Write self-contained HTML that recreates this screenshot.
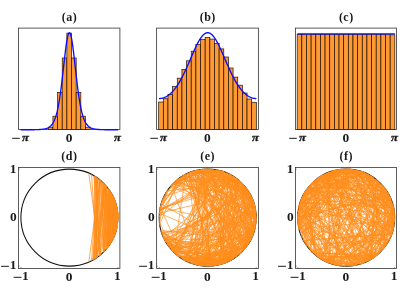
<!DOCTYPE html><html><head><meta charset="utf-8"><style>html,body{margin:0;padding:0;background:#fff}svg{display:block;will-change:transform;opacity:0.999}text{font-family:"Liberation Serif",serif;font-weight:bold;fill:#1a1a1a}</style></head><body>
<svg width="415" height="297" viewBox="0 0 415 297">
<rect width="415" height="297" fill="#fff"/>
<rect x="18.5" y="28.1" width="101.4" height="101.4" fill="none" stroke="#404040" stroke-width="0.85"/>
<g fill="#ff9933" stroke="#140a00" stroke-opacity="0.95" stroke-width="0.7"><rect x="48.28" y="127.2" width="4.65" height="2.3"/><rect x="52.93" y="116.2" width="4.65" height="13.3"/><rect x="57.58" y="92.4" width="4.65" height="37.1"/><rect x="62.23" y="58" width="4.65" height="71.5"/><rect x="66.88" y="33.1" width="4.65" height="96.4"/><rect x="71.53" y="58" width="4.65" height="71.5"/><rect x="76.18" y="92.4" width="4.65" height="37.1"/><rect x="80.83" y="116.2" width="4.65" height="13.3"/><rect x="85.48" y="127.2" width="4.65" height="2.3"/></g>
<polyline fill="none" stroke="#0c0cff" stroke-width="1.35" stroke-linejoin="round" points="20.71,129.79 21.31,129.79 21.92,129.79 22.53,129.79 23.14,129.79 23.75,129.79 24.36,129.79 24.97,129.78 25.57,129.78 26.18,129.78 26.79,129.78 27.4,129.78 28.01,129.77 28.62,129.77 29.23,129.77 29.84,129.76 30.44,129.76 31.05,129.75 31.66,129.74 32.27,129.74 32.88,129.73 33.49,129.72 34.1,129.71 34.71,129.7 35.31,129.69 35.92,129.67 36.53,129.65 37.14,129.63 37.75,129.61 38.36,129.58 38.97,129.55 39.57,129.52 40.18,129.48 40.79,129.43 41.4,129.38 42.01,129.31 42.62,129.24 43.23,129.16 43.84,129.06 44.44,128.95 45.05,128.81 45.66,128.66 46.27,128.48 46.88,128.28 47.49,128.04 48.1,127.75 48.7,127.43 49.31,127.05 49.92,126.6 50.53,126.09 51.14,125.49 51.75,124.79 52.36,123.98 52.97,123.04 53.57,121.96 54.18,120.71 54.79,119.28 55.4,117.63 56.01,115.75 56.62,113.61 57.23,111.18 57.84,108.45 58.44,105.39 59.05,102 59.66,98.25 60.27,94.15 60.88,89.72 61.49,84.96 62.1,79.94 62.7,74.69 63.31,69.3 63.92,63.86 64.53,58.47 65.14,53.27 65.75,48.38 66.36,43.94 66.97,40.09 67.57,36.94 68.18,34.61 68.79,33.18 69.4,32.7 70.01,33.18 70.62,34.61 71.23,36.94 71.83,40.09 72.44,43.94 73.05,48.38 73.66,53.27 74.27,58.47 74.88,63.86 75.49,69.3 76.1,74.69 76.7,79.94 77.31,84.96 77.92,89.72 78.53,94.15 79.14,98.25 79.75,102 80.36,105.39 80.96,108.45 81.57,111.18 82.18,113.61 82.79,115.75 83.4,117.63 84.01,119.28 84.62,120.71 85.23,121.96 85.83,123.04 86.44,123.98 87.05,124.79 87.66,125.49 88.27,126.09 88.88,126.6 89.49,127.05 90.1,127.43 90.7,127.75 91.31,128.04 91.92,128.28 92.53,128.48 93.14,128.66 93.75,128.81 94.36,128.95 94.96,129.06 95.57,129.16 96.18,129.24 96.79,129.31 97.4,129.38 98.01,129.43 98.62,129.48 99.23,129.52 99.83,129.55 100.44,129.58 101.05,129.61 101.66,129.63 102.27,129.65 102.88,129.67 103.49,129.69 104.09,129.7 104.7,129.71 105.31,129.72 105.92,129.73 106.53,129.74 107.14,129.74 107.75,129.75 108.36,129.76 108.96,129.76 109.57,129.77 110.18,129.77 110.79,129.77 111.4,129.78 112.01,129.78 112.62,129.78 113.23,129.78 113.83,129.78 114.44,129.79 115.05,129.79 115.66,129.79 116.27,129.79 116.88,129.79 117.49,129.79 118.09,129.79"/>
<text x="69.5" y="21" font-size="12" text-anchor="middle" letter-spacing="0.5">(a)</text>
<line x1="12.2" y1="138.3" x2="19.8" y2="138.3" stroke="#1a1a1a" stroke-width="1"/>
<text transform="translate(22 141.2) scale(1.15 1)" font-size="11" font-style="italic" stroke="#1a1a1a" stroke-width="0.3">π</text>
<text transform="translate(69.1 141.5) scale(1.12 1)" font-size="12" text-anchor="middle">0</text>
<text transform="translate(114 141.2) scale(1.15 1)" font-size="11" font-style="italic" stroke="#1a1a1a" stroke-width="0.3">π</text>
<rect x="156.6" y="28.1" width="101.8" height="101.4" fill="none" stroke="#404040" stroke-width="0.85"/>
<g fill="#ff9933" stroke="#140a00" stroke-opacity="0.95" stroke-width="0.7"><rect x="158.68" y="102" width="4.65" height="27.5"/><rect x="163.33" y="98.7" width="4.65" height="30.8"/><rect x="167.98" y="94.4" width="4.65" height="35.1"/><rect x="172.62" y="86.3" width="4.65" height="43.2"/><rect x="177.28" y="78.2" width="4.65" height="51.3"/><rect x="181.93" y="69.4" width="4.65" height="60.1"/><rect x="186.58" y="60.8" width="4.65" height="68.7"/><rect x="191.23" y="51.2" width="4.65" height="78.3"/><rect x="195.88" y="44.5" width="4.65" height="85"/><rect x="200.53" y="39.5" width="4.65" height="90"/><rect x="205.18" y="37.4" width="4.65" height="92.1"/><rect x="209.83" y="39.1" width="4.65" height="90.4"/><rect x="214.48" y="43.5" width="4.65" height="86"/><rect x="219.12" y="48.9" width="4.65" height="80.6"/><rect x="223.78" y="57" width="4.65" height="72.5"/><rect x="228.43" y="68" width="4.65" height="61.5"/><rect x="233.08" y="77.1" width="4.65" height="52.4"/><rect x="237.73" y="85.2" width="4.65" height="44.3"/><rect x="242.38" y="93" width="4.65" height="36.5"/><rect x="247.03" y="99" width="4.65" height="30.5"/><rect x="251.68" y="102.3" width="4.65" height="27.2"/></g>
<polyline fill="none" stroke="#0c0cff" stroke-width="1.35" stroke-linejoin="round" points="159.01,98.56 159.61,98.55 160.22,98.5 160.83,98.44 161.44,98.34 162.05,98.22 162.66,98.07 163.27,97.89 163.87,97.68 164.48,97.44 165.09,97.18 165.7,96.89 166.31,96.57 166.92,96.22 167.53,95.84 168.14,95.43 168.74,94.99 169.35,94.51 169.96,94.01 170.57,93.48 171.18,92.91 171.79,92.32 172.4,91.69 173.01,91.03 173.61,90.33 174.22,89.61 174.83,88.84 175.44,88.05 176.05,87.22 176.66,86.36 177.27,85.47 177.87,84.54 178.48,83.57 179.09,82.58 179.7,81.55 180.31,80.49 180.92,79.4 181.53,78.27 182.14,77.12 182.74,75.93 183.35,74.72 183.96,73.48 184.57,72.22 185.18,70.93 185.79,69.61 186.4,68.28 187,66.93 187.61,65.56 188.22,64.18 188.83,62.78 189.44,61.38 190.05,59.97 190.66,58.55 191.27,57.14 191.87,55.73 192.48,54.33 193.09,52.94 193.7,51.56 194.31,50.2 194.92,48.87 195.53,47.56 196.14,46.28 196.74,45.03 197.35,43.83 197.96,42.67 198.57,41.55 199.18,40.48 199.79,39.47 200.4,38.52 201,37.63 201.61,36.8 202.22,36.04 202.83,35.36 203.44,34.75 204.05,34.21 204.66,33.75 205.27,33.38 205.87,33.08 206.48,32.87 207.09,32.74 207.7,32.7 208.31,32.74 208.92,32.87 209.53,33.08 210.13,33.38 210.74,33.75 211.35,34.21 211.96,34.75 212.57,35.36 213.18,36.04 213.79,36.8 214.4,37.63 215,38.52 215.61,39.47 216.22,40.48 216.83,41.55 217.44,42.67 218.05,43.83 218.66,45.03 219.26,46.28 219.87,47.56 220.48,48.87 221.09,50.2 221.7,51.56 222.31,52.94 222.92,54.33 223.53,55.73 224.13,57.14 224.74,58.55 225.35,59.97 225.96,61.38 226.57,62.78 227.18,64.18 227.79,65.56 228.4,66.93 229,68.28 229.61,69.61 230.22,70.93 230.83,72.22 231.44,73.48 232.05,74.72 232.66,75.93 233.26,77.12 233.87,78.27 234.48,79.4 235.09,80.49 235.7,81.55 236.31,82.58 236.92,83.57 237.53,84.54 238.13,85.47 238.74,86.36 239.35,87.22 239.96,88.05 240.57,88.84 241.18,89.61 241.79,90.33 242.39,91.03 243,91.69 243.61,92.32 244.22,92.91 244.83,93.48 245.44,94.01 246.05,94.51 246.66,94.99 247.26,95.43 247.87,95.84 248.48,96.22 249.09,96.57 249.7,96.89 250.31,97.18 250.92,97.44 251.53,97.68 252.13,97.89 252.74,98.07 253.35,98.22 253.96,98.34 254.57,98.44 255.18,98.5 255.79,98.55 256.39,98.56"/>
<text x="207.8" y="21" font-size="12" text-anchor="middle" letter-spacing="0.5">(b)</text>
<line x1="150.3" y1="138.3" x2="157.9" y2="138.3" stroke="#1a1a1a" stroke-width="1"/>
<text transform="translate(160.1 141.2) scale(1.15 1)" font-size="11" font-style="italic" stroke="#1a1a1a" stroke-width="0.3">π</text>
<text transform="translate(207.4 141.5) scale(1.12 1)" font-size="12" text-anchor="middle">0</text>
<text transform="translate(252.1 141.2) scale(1.15 1)" font-size="11" font-style="italic" stroke="#1a1a1a" stroke-width="0.3">π</text>
<rect x="295.5" y="28.1" width="101" height="101.4" fill="none" stroke="#404040" stroke-width="0.85"/>
<g fill="#ff9933" stroke="#140a00" stroke-opacity="0.95" stroke-width="0.7"><rect x="297.18" y="34.6" width="4.65" height="94.9"/><rect x="301.82" y="34.5" width="4.65" height="95"/><rect x="306.48" y="34.7" width="4.65" height="94.8"/><rect x="311.12" y="34.5" width="4.65" height="95"/><rect x="315.78" y="34.4" width="4.65" height="95.1"/><rect x="320.43" y="34.6" width="4.65" height="94.9"/><rect x="325.07" y="34.5" width="4.65" height="95"/><rect x="329.73" y="34.6" width="4.65" height="94.9"/><rect x="334.38" y="34.4" width="4.65" height="95.1"/><rect x="339.03" y="34.5" width="4.65" height="95"/><rect x="343.68" y="34.3" width="4.65" height="95.2"/><rect x="348.33" y="34.6" width="4.65" height="94.9"/><rect x="352.98" y="34.5" width="4.65" height="95"/><rect x="357.62" y="34.6" width="4.65" height="94.9"/><rect x="362.28" y="34.4" width="4.65" height="95.1"/><rect x="366.93" y="34.5" width="4.65" height="95"/><rect x="371.58" y="34.2" width="4.65" height="95.3"/><rect x="376.23" y="34.5" width="4.65" height="95"/><rect x="380.88" y="34.6" width="4.65" height="94.9"/><rect x="385.53" y="34.7" width="4.65" height="94.8"/><rect x="390.18" y="34.8" width="4.65" height="94.7"/></g>
<line x1="297.51" y1="33.9" x2="394.89" y2="33.9" stroke="#0c0cff" stroke-width="1.3"/>
<text x="346.3" y="21" font-size="12" text-anchor="middle" letter-spacing="0.5">(c)</text>
<line x1="289.2" y1="138.3" x2="296.8" y2="138.3" stroke="#1a1a1a" stroke-width="1"/>
<text transform="translate(299 141.2) scale(1.15 1)" font-size="11" font-style="italic" stroke="#1a1a1a" stroke-width="0.3">π</text>
<text transform="translate(345.9 141.5) scale(1.12 1)" font-size="12" text-anchor="middle">0</text>
<text transform="translate(391 141.2) scale(1.15 1)" font-size="11" font-style="italic" stroke="#1a1a1a" stroke-width="0.3">π</text>
<rect x="18.5" y="167.5" width="101.4" height="101" fill="none" stroke="#404040" stroke-width="0.85"/>
<circle cx="69.4" cy="217.6" r="48.5" fill="none" stroke="#111" stroke-width="1.05"/>
<path d="M113.1 196.2L113.9 237.1M112.9 195.8L109.8 244.6M117.3 209.5L115.8 232.2M117.5 210.4L118 219.3M112.1 194.5L110 244.3M116.3 205L116.9 227.9M117.5 210.7L116.2 230.7M114 198.3L115.7 232.5M108.7 189L106.8 248.6M115.2 201.3L111.5 241.9M117.3 209.5L117 227.3M113.3 196.7L114 236.9M117.9 214.6L117.8 221.8M115.8 203.3L114.6 235.4M113.3 196.7L113.6 237.8M115.5 202.2L114.4 236M117.7 212.1L116.8 228.5M117.7 211.9L116.7 228.7M117.7 212L118 219.3M117.5 210.9L117.4 225.1M109.7 190.4L109.9 244.5M110.2 191.2L110.5 243.6M114.2 198.8L109.1 245.6M114.3 199.1L114.6 235.4M106.1 185.7L113.1 238.9M115.3 201.7L112 241M115.4 201.9L116.5 229.6M117.1 208.3L117.8 222.3M115.4 201.8L116.6 229M114.8 200.2L112.9 239.2M114 198.2L112.6 239.8M117.9 214.6L116.7 228.6M117.2 208.7L116.9 227.8M117.1 208.4L118 219.3M117.6 211.4L116.6 229.1M117.7 212.5L114.8 235M113.2 196.5L112.9 239.3M109 189.5L111.6 241.8M110.1 191L108.7 246.2M116.5 205.7L118 219.3M109.6 190.2L108.4 246.6M117.4 210.1L117.3 225.9M114.8 200.2L111.5 241.8M116.5 205.5L115.6 232.6M116.6 205.8L117.4 225M108.5 188.8L111.1 242.6M112.9 196L115.6 232.6M110.8 192.1L112.7 239.6M115.8 203.1L116.4 229.9M118 215.9L116.4 230M114.3 199.1L111.6 241.6M112 194.2L116.6 229.2M116.8 207L115.7 232.2M111.9 194.1L113.5 238.1M115 200.7L114.5 235.8M108.3 188.4L110.3 243.9M109 189.5L108.7 246.2M113.4 197L109.9 244.5M117.9 213.9L117.1 227.1M110.5 191.6L111.2 242.5M114.3 198.9L112.6 239.9M116.7 206.3L112.1 240.8M116.9 207.2L117.3 225.6M115.3 201.7L116.9 228M115.6 202.5L116.9 227.8M113 196.2L115.1 234.2M117.7 212.2L115.4 233.1M113.7 197.6L116.8 228.4M115.1 201L114.4 235.9M111.3 192.9L107.6 247.7M114.7 200.1L113.3 238.5M111.2 192.9L108.3 246.8M111.4 193.2L106.4 249.1M115.8 203L115.4 233.2M108.5 188.8L108.6 246.3M111.5 193.4L110.4 243.7M112.3 194.7L112.3 240.5M116.7 206.3L116.2 230.9M117.7 211.8L116.7 228.8M117.6 211L116.7 228.6M109.8 190.6L111 242.7M116.6 205.9L113.2 238.6M114 198.2L112.1 240.9M106.9 186.6L109.8 244.6M113.3 196.9L113.6 237.9M106.3 185.9L108.2 246.9M106.3 186L105.7 249.9M106.5 186.2L100.6 254.8M108.7 189L106.5 248.9M103.8 183.3L103.7 252.1M106.5 186.2L104.2 251.5M108.6 188.9L107.3 248M108.1 188.2L108.2 246.9M105.4 184.9L108.3 246.7M106.4 186.1L103.8 251.9M102.7 182.2L107.1 248.3M104.8 184.3L104.2 251.6M104.8 184.3L108.2 246.8M103.1 182.6L107.3 248M100.9 180.6L107.9 247.2M105.3 184.9L109 245.8M106.1 185.8L109.7 244.7M99 179L106.3 249.3M111.2 192.7L104.2 251.5M108.7 189L104.2 251.5M95.2 176.4L100.4 255M105.2 184.7L95.5 258.6M96.2 177L96.5 258M96.5 177.2L96.7 257.8M105.7 185.2L97 257.6M100.7 180.4L94.7 259.1M100.9 180.6L103.8 252M96.5 177.3L99.1 256.1M98.3 178.5L94.1 259.4M99.7 179.6L94.2 259.4M97.9 178.2L92.9 260.2M102 181.6L103.9 251.9M105.2 184.8L97.2 257.4M95.2 176.4L94.7 259.1M105.1 184.6L96.7 257.8M95.2 176.4L99.9 255.5M99.8 179.7L100.3 255.1M93.8 175.6L101 254.5M104.7 184.2L94.9 259M103.5 182.9L93.3 259.9M103.1 182.6L99.1 256.1M95.2 176.4L103.2 252.5M100.3 180.1L92.9 260.1M97.3 177.8L103.9 251.9M88.8 173L99.7 255.6M99.7 179.6L88.8 262.2M91.5 174.3L97.3 257.4M97.3 177.8L91.5 260.9M94.4 175.9L94.4 259.3" fill="none" stroke="#ff8c1a" stroke-width="0.75"/>
<text x="69.4" y="160" font-size="12" text-anchor="middle" letter-spacing="0.5">(d)</text>
<path d="M18.5 169.2h1.2M18.5 266.2h1.2M20.9 268.5v-1.3M117.9 268.5v-1.3" stroke="#404040" stroke-width="0.6" fill="none"/>
<text transform="translate(16.5 172.5) scale(1.12 1)" font-size="12" text-anchor="end">1</text>
<text transform="translate(16.7 220.6) scale(1.12 1)" font-size="12" text-anchor="end">0</text>
<text transform="translate(16.5 269.2) scale(1.12 1)" font-size="12" text-anchor="end">1</text>
<line x1="1.1" y1="266.3" x2="8.9" y2="266.3" stroke="#1a1a1a" stroke-width="1"/>
<line x1="13.6" y1="277.3" x2="21.5" y2="277.3" stroke="#1a1a1a" stroke-width="1"/>
<text transform="translate(28.7 280.2) scale(1.12 1)" font-size="12" text-anchor="end">1</text>
<text transform="translate(69 280.5) scale(1.12 1)" font-size="12" text-anchor="middle">0</text>
<text transform="translate(117.4 280.2) scale(1.12 1)" font-size="12" text-anchor="middle">1</text>
<rect x="156.6" y="167.5" width="101.8" height="101" fill="none" stroke="#404040" stroke-width="0.85"/>
<circle cx="207.7" cy="217.6" r="48.5" fill="none" stroke="#111" stroke-width="1.05"/>
<path d="M211.7 266L240.7 181.9M240.7 181.9L250.1 193.8M250.1 193.8L201.8 169.4M201.8 169.4L231.9 259.8M231.9 259.8L226.4 172.7M226.4 172.7L243.9 250M243.9 250L195.9 264.7M195.9 264.7L215.7 265.5M215.7 265.5L185.4 260.8M185.4 260.8L252.4 198.5M252.4 198.5L210 266.1M210 266.1L202.8 169.3M202.8 169.3L207.2 266.2M207.2 266.2L241.9 183.1M241.9 183.1L222.6 263.9M222.6 263.9L198.9 265.4M198.9 265.4L252.8 235.7M252.8 235.7L215.9 265.5M215.9 265.5L177 255.3M177 255.3L210.6 266.1M210.6 266.1L234.8 257.9M234.8 257.9L199.1 265.4M199.1 265.4L231.3 260.1M231.3 260.1L210.9 266.1M210.9 266.1L236.8 178.6M236.8 178.6L229.9 260.9M229.9 260.9L242.4 183.6M242.4 183.6L256.2 221.3M256.2 221.3L229.3 174M229.3 174L249.4 242.5M249.4 242.5L213.5 265.9M213.5 265.9L188.7 172.9M188.7 172.9L198.5 265.3M198.5 265.3L253.2 200.6M253.2 200.6L244.9 248.9M244.9 248.9L208.7 169M208.7 169L242.1 183.3M242.1 183.3L229.4 174.1M229.4 174.1L184.3 260.2M184.3 260.2L220 264.6M220 264.6L228.6 173.7M228.6 173.7L244.5 185.9M244.5 185.9L253.1 235M253.1 235L220.4 170.7M220.4 170.7L159.1 216.8M159.1 216.8L184.4 174.9M184.4 174.9L235 177.4M235 177.4L248.5 191.2M248.5 191.2L164.4 239.8M164.4 239.8L193.5 264.1M193.5 264.1L254 232.5M254 232.5L232.5 259.4M232.5 259.4L184.2 260.1M184.2 260.1L161.6 233.1M161.6 233.1L256.1 212.9M256.1 212.9L198.7 265.4M198.7 265.4L249.6 192.9M249.6 192.9L162.3 235M162.3 235L174.7 253.3M174.7 253.3L251.1 195.8M251.1 195.8L216.1 169.7M216.1 169.7L242.9 251.2M242.9 251.2L161.1 203.8M161.1 203.8L167.3 190.6M167.3 190.6L160.2 207.5M160.2 207.5L182.2 176.2M182.2 176.2L172.1 184.5M172.1 184.5L227.4 173.2M227.4 173.2L194.8 170.8M194.8 170.8L256.3 217.9M256.3 217.9L165.3 241.4M165.3 241.4L245 248.8M245 248.8L202.5 169.3M202.5 169.3L251.2 196M251.2 196L189 172.8M189 172.8L223.3 171.6M223.3 171.6L230.6 260.5M230.6 260.5L188 173.2M188 173.2L213.9 265.8M213.9 265.8L227.7 261.9M227.7 261.9L252.6 199M252.6 199L208.9 169M208.9 169L173 183.6M173 183.6L205.2 169.1M205.2 169.1L221.8 171.1M221.8 171.1L195.9 170.5M195.9 170.5L252 197.6M252 197.6L214.3 265.7M214.3 265.7L224 171.8M224 171.8L186.6 173.8M186.6 173.8L159.2 214M159.2 214L162.8 199M162.8 199L197.6 170.1M197.6 170.1L255.7 209.8M255.7 209.8L232.4 175.8M232.4 175.8L256.1 213M256.1 213L233 176.1M233 176.1L220.5 264.5M220.5 264.5L171.7 250.2M171.7 250.2L233.5 176.4M233.5 176.4L245.8 247.8M245.8 247.8L254 202.7M254 202.7L168.4 246.3M168.4 246.3L218.6 170.2M218.6 170.2L244.4 249.5M244.4 249.5L188.3 173M188.3 173L231.4 260M231.4 260L256.2 220.7M256.2 220.7L183.2 259.6M183.2 259.6L163.7 238.3M163.7 238.3L256 211.9M256 211.9L190.9 263.2M190.9 263.2L236.6 256.7M236.6 256.7L182.5 176M182.5 176L240.5 181.7M240.5 181.7L191.5 171.8M191.5 171.8L251.4 238.8M251.4 238.8L187.1 261.6M187.1 261.6L218.9 264.9M218.9 264.9L238.1 179.7M238.1 179.7L188.8 262.4M188.8 262.4L202.3 169.3M202.3 169.3L193.4 264M193.4 264L227 262.2M227 262.2L161.5 232.6M161.5 232.6L212.2 266M212.2 266L189 172.7M189 172.7L161.1 204M161.1 204L172.6 183.9M172.6 183.9L255.6 209.6M255.6 209.6L196.7 264.9M196.7 264.9L199 169.8M199 169.8L238.7 255.1M238.7 255.1L196.2 170.4M196.2 170.4L250.7 195M250.7 195L201.3 169.4M201.3 169.4L252.5 198.8M252.5 198.8L218.5 170.2M218.5 170.2L250.7 240.3M250.7 240.3L164 238.9M164 238.9L244.1 249.8M244.1 249.8L224.1 263.4M224.1 263.4L167.5 244.9M167.5 244.9L210.8 266.1M210.8 266.1L203.1 169.2M203.1 169.2L255.4 227.1M255.4 227.1L254.6 205M254.6 205L235.4 177.7M235.4 177.7L163.5 237.7M163.5 237.7L178.4 256.4M178.4 256.4L163.9 238.6M163.9 238.6L223.5 263.6M223.5 263.6L223.3 171.6M223.3 171.6L172.1 250.7M172.1 250.7L239.8 181.1M239.8 181.1L202.7 265.9M202.7 265.9L201.6 169.4M201.6 169.4L227.8 261.8M227.8 261.8L246.8 188.7M246.8 188.7L230.1 174.5M230.1 174.5L248.8 243.6M248.8 243.6L183.6 175.4M183.6 175.4L160 208.4M160 208.4L159.7 224.9M159.7 224.9L178.2 178.9M178.2 178.9L238.9 180.3M238.9 180.3L253.7 201.9M253.7 201.9L240.9 182.2M240.9 182.2L177.5 179.5M177.5 179.5L198.3 169.9M198.3 169.9L184 175.2M184 175.2L205.9 169M205.9 169L209.2 266.2M209.2 266.2L244.6 249.3M244.6 249.3L189.7 172.5M189.7 172.5L206.7 169M206.7 169L252.4 236.7M252.4 236.7L196.3 264.8M196.3 264.8L240.6 181.8M240.6 181.8L191.5 263.4M191.5 263.4L248 244.7M248 244.7L248.3 190.9M248.3 190.9L252.7 236.1M252.7 236.1L170.6 249M170.6 249L163.5 237.9M163.5 237.9L203.8 266M203.8 266L256.3 218.4M256.3 218.4L226.4 262.5M226.4 262.5L245.5 248.2M245.5 248.2L202.8 169.2M202.8 169.2L253.2 234.7M253.2 234.7L173.8 182.8M173.8 182.8L252.8 199.4M252.8 199.4L163 236.8M163 236.8L223.4 263.6M223.4 263.6L212.6 169.3M212.6 169.3L191.5 171.8M191.5 171.8L173.5 183.1M173.5 183.1L245.8 187.5M245.8 187.5L209.7 266.2M209.7 266.2L175.8 254.3M175.8 254.3L206.7 169M206.7 169L235.2 177.5M235.2 177.5L250.3 194.2M250.3 194.2L222 171.2M222 171.2L256.2 220.2M256.2 220.2L169.4 247.5M169.4 247.5L253.9 232.6M253.9 232.6L193.4 264M193.4 264L255.1 206.9M255.1 206.9L250.9 195.3M250.9 195.3L183.4 175.5M183.4 175.5L255.4 208.2M255.4 208.2L195.2 264.6M195.2 264.6L209.2 169M209.2 169L246.6 246.7M246.6 246.7L248.2 190.7M248.2 190.7L255.6 209.1M255.6 209.1L241.8 183M241.8 183L247.5 245.5M247.5 245.5L183.5 175.5M183.5 175.5L221.5 264.2M221.5 264.2L161.2 231.8M161.2 231.8L254.1 232M254.1 232L176.9 255.2M176.9 255.2L256.1 213M256.1 213L252.1 197.8M252.1 197.8L190.7 263.1M190.7 263.1L218.8 264.9M218.8 264.9L229.2 174M229.2 174L236.6 256.7M236.6 256.7L209.5 169M209.5 169L196.3 264.9M196.3 264.9L240.7 253.3M240.7 253.3L187.9 173.2M187.9 173.2L252.8 235.7M252.8 235.7L247.6 189.9M247.6 189.9L256.2 220.5M256.2 220.5L253.5 201.3M253.5 201.3L254 232.2M254 232.2L242.1 183.2M242.1 183.2L167.1 190.9M167.1 190.9L159.9 208.8M159.9 208.8L163.9 196.6M163.9 196.6L230.3 174.6M230.3 174.6L254.8 229.7M254.8 229.7L160.2 207.1M160.2 207.1L184.1 260.1M184.1 260.1L255.9 223.5M255.9 223.5L224.6 263.2M224.6 263.2L255.4 226.7M255.4 226.7L240.8 253.2M240.8 253.2L172.7 251.3M172.7 251.3L222.6 171.3M222.6 171.3L195.4 170.6M195.4 170.6L241.4 182.6M241.4 182.6L250.6 240.4M250.6 240.4L256.1 213.6M256.1 213.6L240 181.3M240 181.3L182.9 259.4M182.9 259.4L247.8 245.1M247.8 245.1L198.2 265.3M198.2 265.3L246 247.5M246 247.5L185 260.6M185 260.6L239.4 180.8M239.4 180.8L255.5 208.8M255.5 208.8L254.7 230M254.7 230L233.4 176.3M233.4 176.3L249.3 192.5M249.3 192.5L167.1 244.3M167.1 244.3L245.4 186.9M245.4 186.9L224 263.4M224 263.4L239.2 180.6M239.2 180.6L174.3 252.9M174.3 252.9L239.6 254.3M239.6 254.3L162.9 236.5M162.9 236.5L202 265.9M202 265.9L256.2 220.1M256.2 220.1L216.6 265.4M216.6 265.4L176.6 255M176.6 255L159.4 222.6M159.4 222.6L166.8 191.4M166.8 191.4L191.3 171.8M191.3 171.8L229 261.3M229 261.3L184.6 174.8M184.6 174.8L256.3 215.8M256.3 215.8L254.8 229.5M254.8 229.5L240.9 253.1M240.9 253.1L194.5 170.8M194.5 170.8L246.1 247.4M246.1 247.4L243.3 184.6M243.3 184.6L237.9 255.7M237.9 255.7L167.1 244.2M167.1 244.2L247.5 189.7M247.5 189.7L165.4 241.6M165.4 241.6L218.9 264.9M218.9 264.9L253.2 200.5M253.2 200.5L223.6 171.7M223.6 171.7L185.7 174.3M185.7 174.3L174 252.6M174 252.6L256.1 213.7M256.1 213.7L176.3 180.5M176.3 180.5L195.7 170.5M195.7 170.5L254 232.2M254 232.2L244.4 249.4M244.4 249.4L159.3 213.1M159.3 213.1L249.2 192.3M249.2 192.3L255.1 228.2M255.1 228.2L191.8 171.7M191.8 171.7L244.3 249.6M244.3 249.6L242.1 183.3M242.1 183.3L208.7 169M208.7 169L176.8 255.1M176.8 255.1L223 263.7M223 263.7L256.2 220.8M256.2 220.8L251.3 239.1M251.3 239.1L220.8 170.8M220.8 170.8L196.2 264.8M196.2 264.8L247 246.1M247 246.1L205.8 169M205.8 169L170.7 186.1M170.7 186.1L255.3 227.4M255.3 227.4L239.4 254.5M239.4 254.5L200.8 265.7M200.8 265.7L171.4 185.3M171.4 185.3L256.3 217.8M256.3 217.8L175.8 180.9M175.8 180.9L241.7 182.9M241.7 182.9L226.8 172.9M226.8 172.9L245.2 248.6M245.2 248.6L184.8 260.5M184.8 260.5L254.6 204.7M254.6 204.7L181 258.2M181 258.2L254.2 203.6M254.2 203.6L246.6 246.8M246.6 246.8L252.8 235.7M252.8 235.7L198.2 265.3M198.2 265.3L255.6 226M255.6 226L215.2 265.6M215.2 265.6L171.1 249.6M171.1 249.6L189.1 262.5M189.1 262.5L198.2 169.9M198.2 169.9L236.6 178.6M236.6 178.6L194.7 170.8M194.7 170.8L235.7 257.3M235.7 257.3L172.1 250.7M172.1 250.7L254.8 229.8M254.8 229.8L183.2 259.5M183.2 259.5L241 253M241 253L195 264.5M195 264.5L222.4 171.3M222.4 171.3L220.1 264.6M220.1 264.6L183.1 259.5M183.1 259.5L249.7 193.2M249.7 193.2L164.6 240M164.6 240L200.4 265.6M200.4 265.6L160.8 230.4M160.8 230.4L250.5 240.5M250.5 240.5L253.2 200.5M253.2 200.5L204.2 169.1M204.2 169.1L172.4 184.2M172.4 184.2L251.2 195.9M251.2 195.9L245.8 247.7M245.8 247.7L246.1 187.8M246.1 187.8L245.5 248.2M245.5 248.2L176.3 180.5M176.3 180.5L243.6 184.8M243.6 184.8L200 169.6M200 169.6L256.1 221.8M256.1 221.8L220 264.6M220 264.6L165.1 241M165.1 241L206.6 266.2M206.6 266.2L194.9 170.7M194.9 170.7L256.2 219.9M256.2 219.9L241.3 252.7M241.3 252.7L204.8 266.1M204.8 266.1L216.4 169.8M216.4 169.8L173 251.7M173 251.7L255.8 210.8M255.8 210.8L212.7 169.3M212.7 169.3L185.1 260.6M185.1 260.6L226 172.6M226 172.6L206.2 266.2M206.2 266.2L248.7 191.5M248.7 191.5L212.4 169.2M212.4 169.2L227.6 261.9M227.6 261.9L178.5 256.5M178.5 256.5L229.2 261.2M229.2 261.2L206.7 266.2M206.7 266.2L231.1 260.2M159.7 210L230.5 174.7M159.8 209.2L237.6 179.3M159.6 210.8L224.3 171.9M159.9 208.7L242.1 183.2M159.6 210.4L233.5 176.4" fill="none" stroke="#ff8c1a" stroke-width="0.66"/>
<text x="207.7" y="160" font-size="12" text-anchor="middle" letter-spacing="0.5">(e)</text>
<path d="M156.6 169.2h1.2M156.6 266.2h1.2M159.2 268.5v-1.3M256.2 268.5v-1.3" stroke="#404040" stroke-width="0.6" fill="none"/>
<text transform="translate(154.6 172.5) scale(1.12 1)" font-size="12" text-anchor="end">1</text>
<text transform="translate(154.8 220.6) scale(1.12 1)" font-size="12" text-anchor="end">0</text>
<text transform="translate(154.6 269.2) scale(1.12 1)" font-size="12" text-anchor="end">1</text>
<line x1="139.2" y1="266.3" x2="147" y2="266.3" stroke="#1a1a1a" stroke-width="1"/>
<line x1="151.7" y1="277.3" x2="159.6" y2="277.3" stroke="#1a1a1a" stroke-width="1"/>
<text transform="translate(166.8 280.2) scale(1.12 1)" font-size="12" text-anchor="end">1</text>
<text transform="translate(207.3 280.5) scale(1.12 1)" font-size="12" text-anchor="middle">0</text>
<text transform="translate(255.7 280.2) scale(1.12 1)" font-size="12" text-anchor="middle">1</text>
<rect x="295.5" y="167.5" width="101" height="101" fill="none" stroke="#404040" stroke-width="0.85"/>
<circle cx="346.2" cy="217.6" r="48.5" fill="none" stroke="#111" stroke-width="1.05"/>
<path d="M323.4 260.5L297.9 222.9M297.9 222.9L320.7 176.2M320.7 176.2L373.4 177.3M373.4 177.3L297.7 215M297.7 215L313.2 181.9M313.2 181.9L303.4 194.6M303.4 194.6L375.2 256.6M375.2 256.6L325.9 261.8M325.9 261.8L394.6 222.5M394.6 222.5L356 170M356 170L297.7 220M297.7 220L386.8 190.9M386.8 190.9L308.2 187.3M308.2 187.3L392.5 232.5M392.5 232.5L387.9 192.6M387.9 192.6L348.6 266.1M348.6 266.1L378.4 254M378.4 254L297.7 220.3M297.7 220.3L360.5 264M360.5 264L300.9 200M300.9 200L316.8 178.9M316.8 178.9L297.6 219.3M297.6 219.3L362.7 171.9M362.7 171.9L329 172.1M329 172.1L394.7 221.1M394.7 221.1L321.4 175.8M321.4 175.8L352.6 169.4M352.6 169.4L391.4 235.6M391.4 235.6L377.5 180.4M377.5 180.4L393.7 228M393.7 228L375.6 256.3M375.6 256.3L316.9 256.4M316.9 256.4L302.5 196.3M302.5 196.3L362 171.6M362 171.6L384.4 187.5M384.4 187.5L317.8 178.1M317.8 178.1L305.6 190.8M305.6 190.8L389.3 240M389.3 240L298.9 228.6M298.9 228.6L394.7 220.5M394.7 220.5L337.4 265.4M337.4 265.4L375.7 179M375.7 179L300.3 233.7M300.3 233.7L372.4 176.7M372.4 176.7L393.3 205.7M393.3 205.7L391.8 234.4M391.8 234.4L320.7 176.2M320.7 176.2L364.2 172.5M364.2 172.5L385.2 188.6M385.2 188.6L318.2 257.3M318.2 257.3L299 205.9M299 205.9L394.7 214M394.7 214L335.7 265M335.7 265L344.2 169M344.2 169L355.5 265.3M355.5 265.3L297.7 214.1M297.7 214.1L298.8 228.4M298.8 228.4L299.3 204.7M299.3 204.7L324.4 261M324.4 261L394.7 220.6M394.7 220.6L360.6 264M360.6 264L390.3 197.2M390.3 197.2L297.6 216M297.6 216L351 169.2M351 169.2L385.1 188.4M385.1 188.4L362.6 171.9M362.6 171.9L346.8 169M346.8 169L393.3 229.8M393.3 229.8L344.6 266.2M344.6 266.2L375.5 256.4M375.5 256.4L330.8 263.7M330.8 263.7L326.7 173.1M326.7 173.1L308.5 186.9M308.5 186.9L300.9 199.9M300.9 199.9L333.1 170.8M333.1 170.8L303.4 194.6M303.4 194.6L352.7 265.8M352.7 265.8L389.4 195.3M389.4 195.3L338.1 169.7M338.1 169.7L298 211.2M298 211.2L324.5 261.1M324.5 261.1L338.6 265.6M338.6 265.6L384.6 187.7M384.6 187.7L366.7 173.5M366.7 173.5L328.6 172.3M328.6 172.3L347.9 266.2M347.9 266.2L394.8 219.6M394.8 219.6L326.4 262M326.4 262L393.8 207.6M393.8 207.6L331.9 171.2M331.9 171.2L362.1 263.5M362.1 263.5L389.4 239.8M389.4 239.8L306 244.9M306 244.9L317.9 178.1M317.9 178.1L313.7 253.7M313.7 253.7L378.2 254.2M378.2 254.2L319.9 176.7M319.9 176.7L363.9 172.3M363.9 172.3L394.8 216.7M394.8 216.7L377.8 180.7M377.8 180.7L375.1 256.7M375.1 256.7L311.7 251.9M311.7 251.9L394.7 220.5M394.7 220.5L390.2 197.1M390.2 197.1L313.8 181.4M313.8 181.4L360 264.2M360 264.2L320.5 258.8M320.5 258.8L390.6 197.8M390.6 197.8L306.6 189.4M306.6 189.4L314.7 254.6M314.7 254.6L327.7 262.5M327.7 262.5L299.8 203.1M299.8 203.1L364.6 172.6M364.6 172.6L393.7 227.9M393.7 227.9L298.7 207.4M298.7 207.4L336.3 265.2M336.3 265.2L298.8 228.2M298.8 228.2L388.7 194M388.7 194L350.3 169.2M350.3 169.2L391 198.9M391 198.9L363.9 172.3M363.9 172.3L304.4 192.8M304.4 192.8L325 173.8M325 173.8L314.6 180.7M314.6 180.7L366 262M366 262L394.4 211.1M394.4 211.1L384.9 188.2M384.9 188.2L363.5 263M363.5 263L298.7 227.9M298.7 227.9L301.1 199.4M301.1 199.4L340.9 169.3M340.9 169.3L299.3 230.4M299.3 230.4L354.8 169.8M354.8 169.8L376.8 255.4M376.8 255.4L325 173.9M325 173.9L394.2 210.1M394.2 210.1L383.2 249.1M383.2 249.1L331.6 171.3M331.6 171.3L319.4 258.1M319.4 258.1L376.7 255.4M376.7 255.4L360.7 264M360.7 264L377.8 254.6M377.8 254.6L297.7 214.3M297.7 214.3L372.8 258.3M372.8 258.3L299 205.9M299 205.9L342 169.2M342 169.2L297.9 211.8M297.9 211.8L321.4 175.8M321.4 175.8L351.4 265.9M351.4 265.9L370.1 259.9M370.1 259.9L376.9 179.9M376.9 179.9L310 185.2M310 185.2L298.9 206.5M298.9 206.5L393 230.8M393 230.8L340 265.8M340 265.8L324.7 261.2M324.7 261.2L340 169.4M340 169.4L312.3 182.7M312.3 182.7L394.8 216.8M394.8 216.8L370.4 259.7M370.4 259.7L338.3 169.7M338.3 169.7L388.9 194.4M388.9 194.4L326.7 173.1M326.7 173.1L338.3 265.6M338.3 265.6L394.8 215.9M394.8 215.9L352.3 169.4M352.3 169.4L384.9 247M384.9 247L376 256M376 256L312.7 252.8M312.7 252.8L300.9 235.2M300.9 235.2L354.5 169.7M354.5 169.7L380.6 251.9M380.6 251.9L349.5 266.1M349.5 266.1L297.8 221.5M297.8 221.5L372 176.4M372 176.4L356.6 170.1M356.6 170.1L310.9 184.2M310.9 184.2L322.5 175.2M322.5 175.2L391.3 199.4M391.3 199.4L305.8 190.6M305.8 190.6L300.1 202.2M300.1 202.2L335 170.3M335 170.3L309.9 185.3M309.9 185.3L322.2 175.4M322.2 175.4L311.4 183.6M311.4 183.6L310.6 250.7M310.6 250.7L297.6 216.8M297.6 216.8L361.9 171.6M361.9 171.6L359.8 264.2M359.8 264.2L297.8 221.6M297.8 221.6L299.3 205M299.3 205L335.1 264.9M335.1 264.9L374.5 257.1M374.5 257.1L322.5 260M322.5 260L337.4 265.4M337.4 265.4L373 177M373 177L331 263.8M331 263.8L344.8 169M344.8 169L381.6 184.3M381.6 184.3L307.4 188.3M307.4 188.3L394.4 211.5M394.4 211.5L319.4 258.1M319.4 258.1L345.6 266.2M345.6 266.2L379.7 182.4M379.7 182.4L315.5 255.3M315.5 255.3L371.8 258.9M371.8 258.9L393.6 206.7M393.6 206.7L363.1 172M363.1 172L340.8 169.3M340.8 169.3L299 206.1M299 206.1L369 174.7M369 174.7L299 229.4M299 229.4L319.1 177.2M319.1 177.2L318.9 257.8M318.9 257.8L298.5 227.1M298.5 227.1L327.3 262.4M327.3 262.4L347.3 169M347.3 169L333.2 264.4M333.2 264.4L390.4 197.3M390.4 197.3L392 233.7M392 233.7L303.2 240.2M303.2 240.2L339.4 169.5M339.4 169.5L301.7 198.1M301.7 198.1L297.9 223M297.9 223L346.8 169M346.8 169L314.4 180.9M314.4 180.9L355.6 265.3M355.6 265.3L301.3 199M301.3 199L393.4 205.9M393.4 205.9L299.8 203.2M299.8 203.2L360.8 171.3M360.8 171.3L394.7 213.8M394.7 213.8L333 170.8M333 170.8L298.9 228.9M298.9 228.9L315.6 179.8M315.6 179.8L392.1 201.6M392.1 201.6L385.7 245.9M385.7 245.9L365.1 172.8M365.1 172.8L303.9 193.7M303.9 193.7L312.1 182.9M312.1 182.9L370.4 175.4M370.4 175.4L320.6 258.9M320.6 258.9L355.9 265.2M355.9 265.2L324.2 260.9M324.2 260.9L394.5 212.3M394.5 212.3L352.4 169.4M352.4 169.4L297.8 222.1M297.8 222.1L332 264.1M332 264.1L309.5 185.8M309.5 185.8L300 202.4M300 202.4L372.4 258.5M372.4 258.5L394.3 210.4M394.3 210.4L340.5 169.3M340.5 169.3L394.8 219.8M394.8 219.8L353 169.5M353 169.5L392.7 203.4M392.7 203.4L304.1 193.2M304.1 193.2L317.5 256.8M317.5 256.8L373.9 177.7M373.9 177.7L372.2 258.7M372.2 258.7L362.2 171.7M362.2 171.7L332.4 264.2M332.4 264.2L371.8 176.3M371.8 176.3L382 250.5M382 250.5L360.8 171.3M360.8 171.3L340.5 265.9M340.5 265.9L371.9 258.8M371.9 258.8L344.7 169M344.7 169L386.8 190.8M386.8 190.8L304.5 242.6M304.5 242.6L297.6 217.3M297.6 217.3L355.7 265.3M355.7 265.3L298.9 206.4M298.9 206.4L305.9 190.5M305.9 190.5L372 176.4M372 176.4L332.5 171M332.5 171L346.8 169M346.8 169L356.2 265.2M356.2 265.2L382.8 185.7M382.8 185.7L359.6 170.9M359.6 170.9L298.3 225.6M298.3 225.6L327.6 172.7M327.6 172.7L349.2 169.1M349.2 169.1L312.2 182.9M312.2 182.9L297.6 218.2M297.6 218.2L324 260.8M324 260.8L394.1 226M394.1 226L375.4 256.4M375.4 256.4L302.2 196.9M302.2 196.9L349.6 169.1M349.6 169.1L392.6 232.1M392.6 232.1L390.3 197.3M390.3 197.3L359.8 170.9M359.8 170.9L320.7 259M320.7 259L305.1 243.5M305.1 243.5L337.5 169.8M337.5 169.8L391 236.4M391 236.4L305.3 191.4M305.3 191.4L306.2 245.2M306.2 245.2L387.1 191.3M387.1 191.3L383.8 248.4M383.8 248.4L385 188.3M385 188.3L308 187.6M308 187.6L382.8 249.6M382.8 249.6L391.9 234.1M391.9 234.1L386.2 245.2M386.2 245.2L369 260.5M369 260.5L351.3 169.3M351.3 169.3L393.8 207.9M393.8 207.9L299.8 203.1M299.8 203.1L391 198.8M391 198.8L393.3 229.5M393.3 229.5L394.7 215.1M394.7 215.1L324 174.4M324 174.4L360.3 171.1M360.3 171.1L394.6 213.4M394.6 213.4L297.6 217.3M297.6 217.3L389.4 195.3M389.4 195.3L385.5 246.2M385.5 246.2L327.6 262.5M327.6 262.5L312.9 182.2M312.9 182.2L372.6 258.4M372.6 258.4L360.3 264.1M360.3 264.1L323.7 174.5M323.7 174.5L374.1 257.4M374.1 257.4L390.1 238.5M390.1 238.5L310.7 250.8M310.7 250.8L317.2 178.6M317.2 178.6L385.6 246M385.6 246L391.7 234.7M391.7 234.7L318.3 177.8M318.3 177.8L387.8 192.5M387.8 192.5L379 253.5M379 253.5L321.4 259.4M321.4 259.4L351.7 169.3M351.7 169.3L301.8 237.4M301.8 237.4L328.8 172.2M328.8 172.2L388.7 241.2M388.7 241.2L319.6 176.9M319.6 176.9L362.3 171.7M362.3 171.7L393 204.6M393 204.6L319.5 177M319.5 177L394.7 220.8M394.7 220.8L355.8 170M355.8 170L299.3 204.9M299.3 204.9L394.1 226.1M394.1 226.1L332.6 170.9M332.6 170.9L367.2 261.4M367.2 261.4L386.3 190.1M386.3 190.1L390 238.8M390 238.8L370.8 259.5M370.8 259.5L376.5 179.6M376.5 179.6L305.6 244.2M305.6 244.2L329.4 263.2M329.4 263.2L329.2 172.1M329.2 172.1L309.9 185.3M309.9 185.3L349 169.1M349 169.1L333.6 170.7M333.6 170.7L368.1 174.2M368.1 174.2L386.3 245.1M386.3 245.1L315.2 180.2M315.2 180.2L329.2 263.1M329.2 263.1L297.7 214.6M297.7 214.6L336.9 169.9M336.9 169.9L317.7 178.2M317.7 178.2L393.6 228.2M393.6 228.2L319.8 176.8M319.8 176.8L303.4 240.7M303.4 240.7L391.9 234M391.9 234L331.9 171.2M331.9 171.2L363.8 262.9M363.8 262.9L382.8 185.7M382.8 185.7L341.1 265.9M341.1 265.9L363.1 263.1M363.1 263.1L394.2 225.2M394.2 225.2L334.4 264.7M334.4 264.7L394.3 224.5M394.3 224.5L337.6 169.8M337.6 169.8L298 224.2M298 224.2L357.1 170.2M357.1 170.2L388.3 193.2M388.3 193.2L301.1 199.4M301.1 199.4L337 265.3M337 265.3L354.8 265.4M354.8 265.4L394.5 212.4M394.5 212.4L391.6 234.9M391.6 234.9L347 169M347 169L333.5 170.7M333.5 170.7L370.3 259.8M370.3 259.8L384.5 247.6M384.5 247.6L342.1 266M342.1 266L322 175.4M322 175.4L298.9 206.4M298.9 206.4L370.8 259.5M370.8 259.5L315.9 179.6M315.9 179.6L362.8 263.3M362.8 263.3L298.5 208.1M298.5 208.1L384.9 247M384.9 247L309.8 185.4M309.8 185.4L346.2 266.2" fill="none" stroke="#ff8c1a" stroke-width="0.66"/>
<text x="346.2" y="160" font-size="12" text-anchor="middle" letter-spacing="0.5">(f)</text>
<path d="M295.5 169.2h1.2M295.5 266.2h1.2M297.7 268.5v-1.3M394.7 268.5v-1.3" stroke="#404040" stroke-width="0.6" fill="none"/>
<text transform="translate(293.5 172.5) scale(1.12 1)" font-size="12" text-anchor="end">1</text>
<text transform="translate(293.7 220.6) scale(1.12 1)" font-size="12" text-anchor="end">0</text>
<text transform="translate(293.5 269.2) scale(1.12 1)" font-size="12" text-anchor="end">1</text>
<line x1="278.1" y1="266.3" x2="285.9" y2="266.3" stroke="#1a1a1a" stroke-width="1"/>
<line x1="290.6" y1="277.3" x2="298.5" y2="277.3" stroke="#1a1a1a" stroke-width="1"/>
<text transform="translate(305.7 280.2) scale(1.12 1)" font-size="12" text-anchor="end">1</text>
<text transform="translate(345.8 280.5) scale(1.12 1)" font-size="12" text-anchor="middle">0</text>
<text transform="translate(394.2 280.2) scale(1.12 1)" font-size="12" text-anchor="middle">1</text>
</svg></body></html>
